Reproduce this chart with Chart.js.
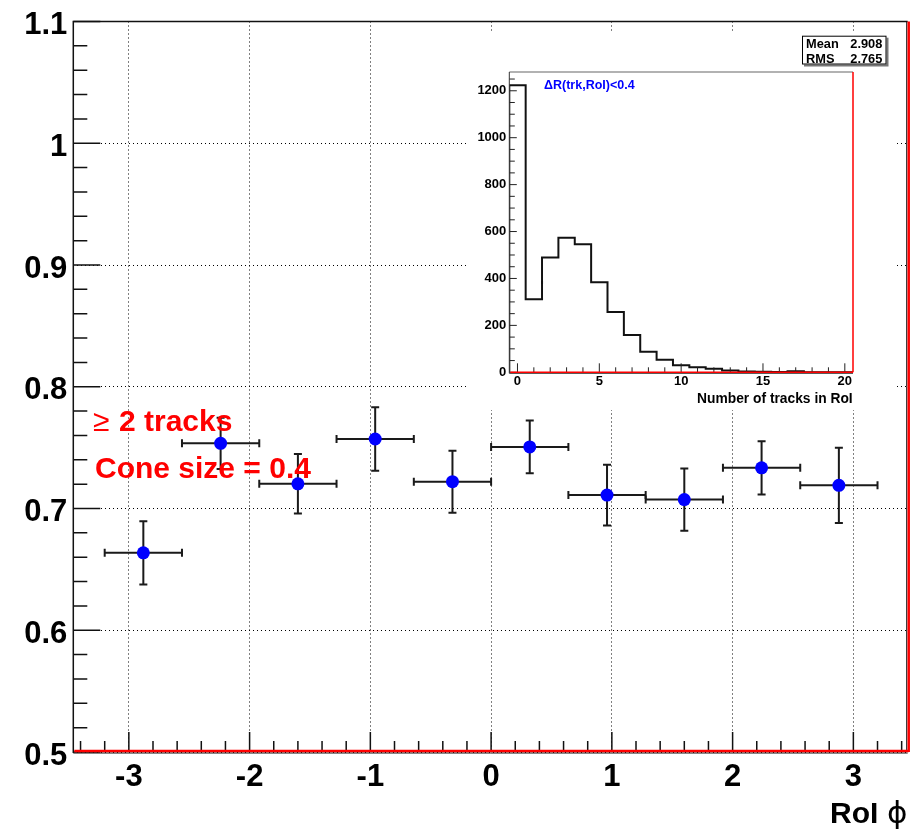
<!DOCTYPE html>
<html><head><meta charset="utf-8">
<script src="https://cdn.jsdelivr.net/npm/chart.js@4.4.1/dist/chart.umd.min.js"></script>
<style>
html,body{margin:0;padding:0;background:#fff;}
#wrap{position:relative;width:916px;height:829px;overflow:hidden;}
#main{position:absolute;left:0;top:0;}
#insetPad{position:absolute;left:467px;top:33px;width:430px;height:377px;background:#fff;}
</style></head><body>
<div id="wrap">
<canvas id="main" width="916" height="829"></canvas>
<div id="insetPad"><canvas id="inset" width="430" height="377"></canvas></div>
</div>
<script>
// ---- main plot data ----
const phiCenters   = [-2.88, -2.24, -1.60, -0.96, -0.32, 0.32, 0.96, 1.60, 2.24, 2.88];
const phiHalfWidth = [0.32, 0.32, 0.32, 0.32, 0.32, 0.32, 0.32, 0.32, 0.32, 0.32];
const efficiency   = [0.6636, 0.7535, 0.7203, 0.7571, 0.7220, 0.7506, 0.7110, 0.7073, 0.7334, 0.7190];
const effError     = [0.026, 0.021, 0.0245, 0.026, 0.0255, 0.0216, 0.025, 0.0256, 0.0218, 0.031];
const xTickLabels  = [-3, -2, -1, 0, 1, 2, 3];
const yTickLabels  = [0.5, 0.6, 0.7, 0.8, 0.9, 1, 1.1];

// ---- inset histogram data ----
const nTracks     = [0, 1, 2, 3, 4, 5, 6, 7, 8, 9, 10, 11, 12, 13, 14, 15, 16, 17, 18, 19, 20];
const trackCounts = [1224, 311, 489, 574, 546, 384, 257, 159, 88, 54, 30, 21, 15, 8, 3, 2, 1, 4, 0, 0, 0];
const insetXTicks = [0, 5, 10, 15, 20];
const insetYTicks = [0, 200, 400, 600, 800, 1000, 1200];
const statsLabels = ['Mean', 'RMS'];
const statsValues = ['2.908', '2.765'];

const FONT = "'Liberation Sans', Arial, Helvetica, sans-serif";

function drawTicksX(ctx, scale, y0, from, to, step, majors, majLen, minLen, dir) {
  const n = Math.round((to - from) / step);
  ctx.beginPath();
  for (let k = 0; k <= n; k++) {
    const v = from + k * step;
    const isMaj = majors.some(m => Math.abs(m - v) < step / 10);
    const px = scale.getPixelForValue(v);
    ctx.moveTo(px, y0);
    ctx.lineTo(px, y0 - dir * (isMaj ? majLen : minLen));
  }
  ctx.stroke();
}
function drawTicksY(ctx, scale, x0, from, to, step, majors, majLen, minLen) {
  const n = Math.round((to - from) / step);
  ctx.beginPath();
  for (let k = 0; k <= n; k++) {
    const v = from + k * step;
    const isMaj = majors.some(m => Math.abs(m - v) < step / 10);
    const py = scale.getPixelForValue(v);
    ctx.moveTo(x0, py);
    ctx.lineTo(x0 + (isMaj ? majLen : minLen), py);
  }
  ctx.stroke();
}

const mainDecor = {
  id: 'mainDecor',
  beforeDatasetsDraw(chart) {
    const {ctx, scales: {x, y}} = chart;
    ctx.save();
    ctx.strokeStyle = '#1a1a1a';
    ctx.lineWidth = 2;
    phiCenters.forEach((c, i) => {
      const px = x.getPixelForValue(c), py = y.getPixelForValue(efficiency[i]);
      const xl = x.getPixelForValue(c - phiHalfWidth[i]), xr = x.getPixelForValue(c + phiHalfWidth[i]);
      const yt = y.getPixelForValue(efficiency[i] + effError[i]), yb = y.getPixelForValue(efficiency[i] - effError[i]);
      ctx.beginPath();
      ctx.moveTo(xl, py); ctx.lineTo(xr, py);
      ctx.moveTo(px, yt); ctx.lineTo(px, yb);
      ctx.moveTo(xl, py - 4); ctx.lineTo(xl, py + 4);
      ctx.moveTo(xr, py - 4); ctx.lineTo(xr, py + 4);
      ctx.moveTo(px - 4, yt); ctx.lineTo(px + 4, yt);
      ctx.moveTo(px - 4, yb); ctx.lineTo(px + 4, yb);
      ctx.stroke();
    });
    ctx.restore();
  },
  afterDraw(chart) {
    const {ctx, chartArea: a, scales: {x, y}} = chart;
    ctx.save();
    // ticks
    ctx.strokeStyle = '#111';
    ctx.lineWidth = 1.5;
    drawTicksX(ctx, x, a.bottom, -3.4, 3.4, 0.2, xTickLabels, 20, 11, 1);
    drawTicksY(ctx, y, a.left, 0.5, 1.1, 0.02, yTickLabels, 27, 14);
    // frame
    ctx.lineWidth = 1.5;
    ctx.strokeStyle = '#111';
    ctx.beginPath();
    ctx.moveTo(a.left, a.bottom + 1); ctx.lineTo(a.left, a.top); ctx.lineTo(a.right, a.top);
    ctx.stroke();
    ctx.lineWidth = 1;
    ctx.beginPath();
    ctx.moveTo(a.left, a.bottom + 1); ctx.lineTo(a.right, a.bottom + 1);
    ctx.moveTo(a.right - 1, a.top); ctx.lineTo(a.right - 1, a.bottom);
    ctx.stroke();
    ctx.strokeStyle = '#ff0000';
    ctx.lineWidth = 2.5;
    ctx.beginPath();
    ctx.moveTo(a.left + 1, a.bottom - 1); ctx.lineTo(a.right + 1, a.bottom - 1);
    ctx.moveTo(a.right + 1, a.top); ctx.lineTo(a.right + 1, a.bottom);
    ctx.stroke();
    // axis title
    ctx.fillStyle = '#000';
    ctx.textBaseline = 'alphabetic';
    ctx.textAlign = 'left';
    ctx.font = 'bold 30px ' + FONT;
    ctx.fillText('RoI', 830, 823);
    ctx.font = "31px 'DejaVu Sans', " + FONT;
    ctx.fillText('\u03D5', 887, 823);
    // annotations
    ctx.fillStyle = '#ff0000';
    ctx.font = '30px ' + FONT;
    ctx.fillText('\u2265', 93, 430.5);
    ctx.font = 'bold 30px ' + FONT;
    ctx.fillText('2 tracks', 119, 430.5);
    ctx.fillText('Cone size = 0.4', 95, 477.5);
    ctx.restore();
  }
};

new Chart(document.getElementById('main'), {
  type: 'scatter',
  data: {
    datasets: [{
      data: phiCenters.map((c, i) => ({x: c, y: efficiency[i]})),
      pointRadius: 6.5, pointHoverRadius: 6.5,
      backgroundColor: '#0000ff', borderWidth: 0
    }]
  },
  options: {
    responsive: false, animation: false, devicePixelRatio: 1,
    layout: {padding: {left: 0, top: 17, right: 8.3, bottom: 0}},
    plugins: {legend: {display: false}, tooltip: {enabled: false}},
    scales: {
      x: {
        type: 'linear', min: -3.46, max: 3.45,
        afterBuildTicks: s => { s.ticks = xTickLabels.map(v => ({value: v})); },
        afterFit: s => { s.height = 77; },
        grid: {color: '#000', lineWidth: 1, drawTicks: false},
        border: {display: false, dash: [1, 3]},
        ticks: {font: {family: FONT, size: 31, weight: 'bold', lineHeight: 1}, color: '#000', padding: 9.5,
                autoSkip: false, maxRotation: 0, callback: v => String(v)}
      },
      y: {
        type: 'linear', min: 0.5, max: 1.1,
        afterBuildTicks: s => { s.ticks = yTickLabels.map(v => ({value: v})); },
        afterFit: s => { s.width = 73.3; },
        grid: {color: '#000', lineWidth: 1, drawTicks: false},
        border: {display: false, dash: [1, 3]},
        ticks: {font: {family: FONT, size: 31, weight: 'bold', lineHeight: 1}, color: '#000', padding: 6,
                labelOffset: 4, autoSkip: false, callback: v => String(v)}
      }
    }
  },
  plugins: [mainDecor]
});

// ---- inset ----
const insetDecor = {
  id: 'insetDecor',
  afterDraw(chart) {
    const {ctx, chartArea: a, scales: {x, y}} = chart;
    ctx.save();
    ctx.strokeStyle = '#222';
    ctx.lineWidth = 1;
    drawTicksX(ctx, x, a.bottom, 0, 20, 1, insetXTicks, 9, 5, 1);
    drawTicksY(ctx, y, a.left, 0, 1250, 50, insetYTicks, 7.5, 5.5);
    // frame
    ctx.strokeStyle = '#999';
    ctx.lineWidth = 1.5;
    ctx.beginPath(); ctx.moveTo(a.left, a.top); ctx.lineTo(a.right, a.top); ctx.stroke();
    ctx.strokeStyle = '#333';
    ctx.lineWidth = 1;
    ctx.beginPath(); ctx.moveTo(a.left, a.top); ctx.lineTo(a.left, a.bottom + 1);
    ctx.moveTo(a.left, a.bottom + 1); ctx.lineTo(a.right, a.bottom + 1); ctx.stroke();
    ctx.strokeStyle = '#ff0000';
    ctx.lineWidth = 1.5;
    ctx.beginPath(); ctx.moveTo(a.left + 1, a.bottom); ctx.lineTo(a.right, a.bottom);
    ctx.moveTo(a.right, a.top); ctx.lineTo(a.right, a.bottom); ctx.stroke();
    // label text
    ctx.fillStyle = '#0000ff';
    ctx.textBaseline = 'middle';
    ctx.textAlign = 'left';
    ctx.font = 'bold 12.5px ' + FONT;
    ctx.fillText('\u0394R(trk,RoI)<0.4', 77, 52.7);
    // axis title
    ctx.fillStyle = '#000';
    ctx.textAlign = 'right';
    ctx.font = 'bold 13.8px ' + FONT;
    ctx.fillText('Number of tracks in RoI', 385.7, 366);
    // stats box
    const bx = 335, by = 2.7, bw = 84.5, bh = 28.8;
    ctx.fillStyle = '#777';
    ctx.fillRect(bx + 2, by + 2, bw, bh);
    ctx.fillStyle = '#fff';
    ctx.fillRect(bx, by, bw, bh);
    ctx.strokeStyle = '#000';
    ctx.lineWidth = 1;
    ctx.strokeRect(bx + 0.5, by + 0.5, bw - 1, bh - 1);
    ctx.fillStyle = '#000';
    ctx.font = 'bold 12.8px ' + FONT;
    statsLabels.forEach((lab, i) => {
      const ty = 11.5 + i * 15.3;
      ctx.textAlign = 'left';
      ctx.fillText(lab, 339, ty);
      ctx.textAlign = 'right';
      ctx.fillText(statsValues[i], 415.3, ty);
    });
    ctx.restore();
  }
};

const histPoints = [{x: nTracks[0] - 0.5, y: 0}]
  .concat(nTracks.map((n, i) => ({x: n - 0.5, y: trackCounts[i]})))
  .concat([{x: nTracks[nTracks.length - 1] + 0.5, y: trackCounts[trackCounts.length - 1]}]);

new Chart(document.getElementById('inset'), {
  type: 'scatter',
  data: {
    datasets: [{
      data: histPoints, showLine: true, stepped: 'before',
      pointRadius: 0, borderColor: '#111', borderWidth: 2, fill: false
    }]
  },
  options: {
    responsive: false, animation: false, devicePixelRatio: 1,
    layout: {padding: {left: 0, top: 39, right: 44, bottom: 0}},
    plugins: {legend: {display: false}, tooltip: {enabled: false}},
    scales: {
      x: {
        type: 'linear', min: -0.5, max: 20.5,
        afterBuildTicks: s => { s.ticks = insetXTicks.map(v => ({value: v})); },
        afterFit: s => { s.height = 37.7; },
        grid: {display: false, drawTicks: false},
        border: {display: false},
        ticks: {font: {family: FONT, size: 13, weight: 'bold', lineHeight: 1}, color: '#000', padding: 3,
                autoSkip: false, maxRotation: 0, callback: v => String(v)}
      },
      y: {
        type: 'linear', min: 0, max: 1280,
        afterBuildTicks: s => { s.ticks = insetYTicks.map(v => ({value: v})); },
        afterFit: s => { s.width = 42.3; },
        grid: {display: false, drawTicks: false},
        border: {display: false},
        ticks: {font: {family: FONT, size: 13, weight: 'bold', lineHeight: 1}, color: '#000', padding: 3,
                autoSkip: false, callback: v => String(v)}
      }
    }
  },
  plugins: [insetDecor]
});
</script>
</body></html>
